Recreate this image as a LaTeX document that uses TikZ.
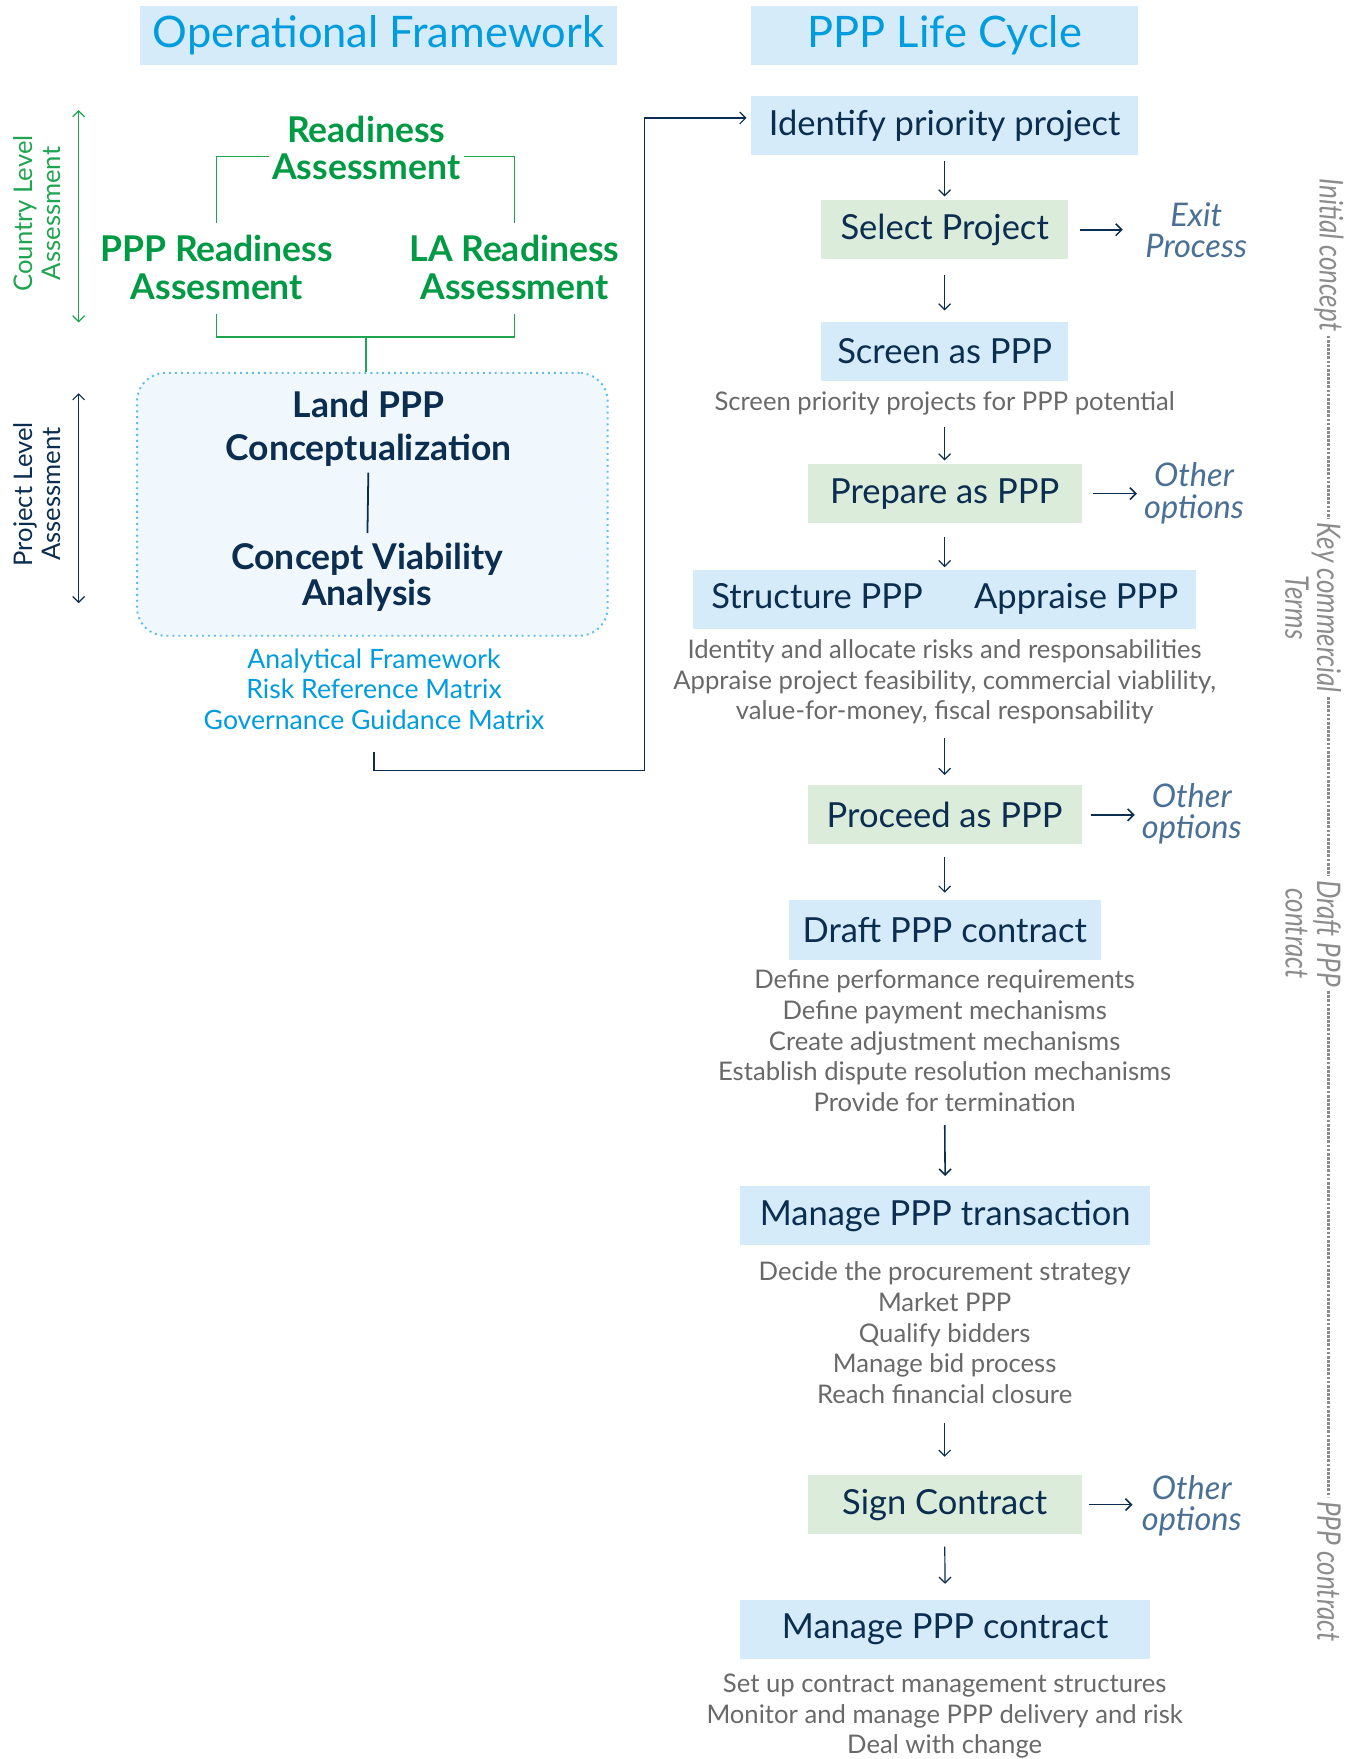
\documentclass[tikz,border=0pt]{standalone}
\usepackage{fontspec}
\setmainfont{Lato}
\newfontfamily\narrowfont[FakeStretch=0.8]{Lato}
\usepackage{tikz}
\usetikzlibrary{arrows.meta,calc,positioning}
\definecolor{skyfill}{RGB}{213,235,250}
\definecolor{sagefill}{RGB}{220,236,219}
\definecolor{skytext}{RGB}{0,156,222}
\definecolor{navy}{RGB}{10,45,80}
\definecolor{leaf}{RGB}{0,154,68}
\definecolor{leafline}{RGB}{30,165,80}
\definecolor{descgrey}{RGB}{105,105,105}
\definecolor{slate}{RGB}{74,112,150}
\definecolor{sidegrey}{RGB}{140,140,140}
\definecolor{dotblue}{RGB}{95,190,235}
\definecolor{panelfill}{RGB}{240,248,253}

\begin{document}
\begin{tikzpicture}[x=0.02cm, y=-0.02cm,
    every node/.style={inner sep=0pt, align=center},
    heading/.style={fill=skyfill, text=skytext, font=\fontsize{22}{24}\selectfont, minimum height=1.06cm},
    stage/.style={fill=skyfill, text=navy, font=\fontsize{17.5}{19}\selectfont, minimum height=1.05cm},
    decision/.style={stage, fill=sagefill},
    detail/.style={text=descgrey, font=\fontsize{13}{15.5}\selectfont},
    aside/.style={text=slate, font=\fontsize{16.5}{16}\selectfont\itshape},
    readyhead/.style={text=leaf, font=\fontsize{18}{19}\selectfont\bfseries},
    concept/.style={text=navy, font=\fontsize{18}{22}\selectfont\bfseries},
    levellabel/.style={rotate=90, font=\fontsize{13}{14}\selectfont},
    phase/.style={rotate=-90, text=sidegrey, font=\narrowfont\itshape\fontsize{16.5}{16}\selectfont},
    flow/.style={-{Straight Barb[length=3pt,width=6pt]}, navy, line width=0.6pt},
    twig/.style={leafline, line width=0.7pt},
    phaseline/.style={sidegrey, dash pattern=on 1.4pt off 0.7pt, line width=1.6pt, shorten <=2pt, shorten >=2pt}]
    \fill[white] (0,0) rectangle (1200,1566);
    \useasboundingbox (0,0) rectangle (1200,1566);
    % Headings
    \node[heading, minimum width=8.48cm] (opframe) at (337,31.5) {Operational Framework};
    \node[heading, minimum width=6.88cm] (lifecycle) at (841,31.5) {PPP Life Cycle};
    % Country level assessment
    \draw[{Straight Barb[length=3pt,width=6pt]}-{Straight Barb[length=3pt,width=6pt]}, leafline, line width=0.6pt] (70,98) -- (70,287);
    \node[levellabel, text=leafline] (countrylbl) at (33,190) {Country Level\\Assessment};
    \node[readyhead] (readiness) at (326,131.5) {Readiness\\Assessment};
    \node[readyhead] (pppready) at (193,238) {PPP Readiness\\Assesment};
    \node[readyhead] (laready) at (458,238) {LA Readiness\\Assessment};
    \coordinate (join) at (326,300);
    \draw[twig, shorten <=6pt] (pppready.north) |- ($(readiness.west)+(-3,8)$);
    \draw[twig, shorten >=6pt] ($(readiness.east)+(3,8)$) -| (laready.north);
    \draw[twig, shorten <=7pt, shorten >=7pt] (pppready.south) |- (join) -| (laready.south);
    % Project level assessment
    \node[draw=dotblue, dotted, line width=1pt, fill=panelfill, rounded corners=0.5cm,
        minimum width=8.38cm, minimum height=4.68cm] (conceptbox) at (331.5,449) {};
    \draw[twig, line width=1.3pt] (join) -- (join |- conceptbox.north);
    \draw[{Straight Barb[length=3pt,width=6pt]}-{Straight Barb[length=3pt,width=6pt]}, navy, line width=0.6pt] (70,350) -- (70,537);
    \node[levellabel, text=navy] (projectlbl) at (33,440) {Project Level\\Assessment};
    \node[concept] (landppp) at (328,381.5) {Land PPP\\Conceptualization};
    \node[concept, font=\fontsize{18}{18}\selectfont\bfseries] (cva) at (327,514) {Concept Viability\\Analysis};
    \draw[navy, line width=0.9pt, shorten <=3pt, shorten >=5pt] (landppp.south) -- (cva.north);
    \node[text=skytext, font=\fontsize{13.5}{15.6}\selectfont] (tools) at (333,613.5)
        {Analytical Framework\\Risk Reference Matrix\\Governance Guidance Matrix};
    % Link to life cycle
    \coordinate (loopcorner) at (574,686);
    % Life cycle stages
    \node[stage, minimum width=6.88cm] (identify) at (841,112) {Identify priority project};
    \node[decision, minimum width=4.4cm] (select) at (841,204.5) {Select Project};
    \node[aside] (exitproc) at (1065,205) {Exit\\Process};
    \node[stage, minimum width=4.4cm] (screen) at (841,313) {Screen as PPP};
    \node[detail] (screendesc) at (841,359) {Screen priority projects for PPP potential};
    \node[decision, minimum width=4.88cm] (prepare) at (841,439.5) {Prepare as PPP};
    \node[aside] (otherA) at (1063,439) {Other\\options};
    \node[stage, minimum width=8.96cm] (structure) at (841,533.5) {Structure PPP\hspace{26pt}Appraise PPP};
    \node[detail] (structdesc) at (841,607) {Identity and allocate risks and responsabilities\\Appraise project feasibility, commercial viablility,\\value-for-money, fiscal responsability};
    \node[decision, minimum width=4.88cm] (proceed) at (841,725.5) {Proceed as PPP};
    \node[aside] (otherB) at (1061,724.5) {Other\\options};
    \node[stage, minimum width=5.56cm, minimum height=1.08cm] (draft) at (841,828) {Draft PPP contract};
    \node[detail] (draftdesc) at (841,926.5) {Define performance requirements\\Define payment mechanisms\\Create adjustment mechanisms\\Establish dispute resolution mechanisms\\Provide for termination};
    \node[stage, minimum width=7.3cm] (transaction) at (841.5,1082.5) {Manage PPP transaction};
    \node[detail] (transdesc) at (841,1186.5) {Decide the procurement strategy\\Market PPP\\Qualify bidders\\Manage bid process\\Reach financial closure};
    \node[decision, minimum width=4.88cm] (sign) at (841,1339.5) {Sign Contract};
    \node[aside] (otherC) at (1061,1340.5) {Other\\options};
    \node[stage, minimum width=7.3cm] (contract) at (841.5,1450.5) {Manage PPP contract};
    \node[detail] (contractdesc) at (841,1528) {Set up contract management structures\\Monitor and manage PPP delivery and risk\\Deal with change};
    \draw[flow, shorten <=11pt, shorten >=2.3pt] (tools.south) |- (loopcorner) |- ([yshift=4pt]identify.west);
    % Flow arrows
    \foreach \a/\b/\s/\e in {identify/select/2.8pt/1.7pt, select/screen/7.9pt/5.7pt,
        screendesc/prepare/6pt/1.7pt, prepare/structure/6.8pt/1.1pt,
        structdesc/proceed/6.8pt/5.1pt, proceed/draft/6.2pt/3.4pt,
        transdesc/sign/9.6pt/9.1pt, sign/contract/6.2pt/7.9pt} {
        \draw[flow, shorten <=\s, shorten >=\e] (\a.south) -- (\b.north);
    }
    \draw[flow, line width=0.8pt, shorten <=6.8pt, shorten >=5.1pt] (draftdesc.south) -- (transaction.north);
    % Exit arrows
    \foreach \a/\b/\s/\e in {select/exitproc/5.7pt/11.3pt, prepare/otherA/5.7pt/3.4pt,
        proceed/otherB/4.5pt/3.4pt, sign/otherC/3.4pt/4.5pt} {
        \draw[flow, line width=0.8pt, shorten <=\s, shorten >=\e] (\a.east) -- (\a.east -| \b.west);
    }
    % Phases
    \node[phase] (initial) at (1183,227) {Initial concept};
    \node[phase] (keyterms) at (1169,541) {Key commercial\\Terms};
    \node[phase] (draftphase) at (1169,831) {Draft PPP\\contract};
    \node[phase] (pppphase) at (1183,1399) {PPP contract};
    \draw[phaseline] (initial.east) -- (initial.east |- keyterms.west);
    \draw[phaseline] (initial.east |- keyterms.east) -- (initial.east |- draftphase.west);
    \draw[phaseline] (initial.east |- draftphase.east) -- (pppphase.west);
\end{tikzpicture}
\end{document}
